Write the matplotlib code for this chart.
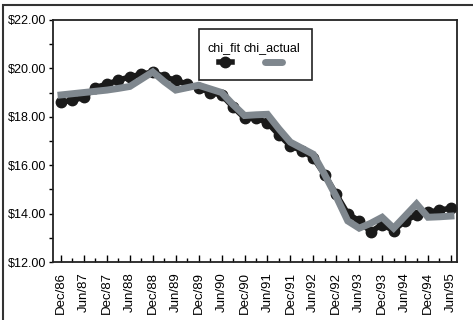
import numpy as np
import matplotlib.pyplot as plt
from matplotlib.patches import Rectangle
from matplotlib.ticker import FuncFormatter, MultipleLocator

plt.rcParams['font.family'] = ['Liberation Sans', 'DejaVu Sans']

# quarterly points, Dec/86 .. Jun/95
tick_labels = ['Dec/86', 'Jun/87', 'Dec/87', 'Jun/88', 'Dec/88', 'Jun/89',
               'Dec/89', 'Jun/90', 'Dec/90', 'Jun/91', 'Dec/91', 'Jun/92',
               'Dec/92', 'Jun/93', 'Dec/93', 'Jun/94', 'Dec/94', 'Jun/95']

chi_fit = [18.60, 18.68, 18.80, 19.20, 19.35, 19.50, 19.65, 19.75, 19.85,
           19.65, 19.50, 19.35, 19.20, 19.00, 18.90, 18.40, 17.95, 17.95,
           17.75, 17.25, 16.80, 16.60, 16.30, 15.60, 14.80, 14.00, 13.70,
           13.25, 13.55, 13.30, 13.70, 13.95, 14.05, 14.15, 14.22]

chi_actual = [18.90, 18.95, 19.00, 19.05, 19.10, 19.17, 19.25, 19.55, 19.85,
              19.45, 19.10, 19.20, 19.30, 19.15, 19.00, 18.50, 18.05, 18.08,
              18.10, 17.50, 16.95, 16.70, 16.45, 15.60, 14.70, 13.70, 13.40,
              13.60, 13.85, 13.40, 13.90, 14.40, 13.85, 13.87, 13.90]

x = np.arange(len(chi_fit))

fig = plt.figure(figsize=(4.73, 3.2), dpi=100)
ax = fig.add_axes([0.112, 0.181, 0.854, 0.757])

ax.plot(x, chi_fit, color='#1a1a1a', lw=4, marker='o', markersize=7.5,
        solid_joinstyle='round', zorder=2)
ax.plot(x, chi_actual, color='#7f878e', lw=5, solid_joinstyle='miter',
        zorder=3)

ax.set_xlim(-0.70, 34.52)
ax.set_ylim(12, 22)

ax.set_xticks(x[::2])
ax.set_xticklabels(tick_labels, rotation=90, fontsize=9.5)
ax.xaxis.set_minor_locator(MultipleLocator(1))
ax.tick_params(axis='x', which='major', direction='in', length=5, width=1, pad=7)
ax.tick_params(axis='x', which='minor', direction='in', length=3, width=1)

ax.yaxis.set_major_locator(MultipleLocator(2))
ax.yaxis.set_minor_locator(MultipleLocator(1))
ax.yaxis.set_major_formatter(FuncFormatter(lambda v, p: '$%.2f' % v))
ax.tick_params(axis='y', which='major', direction='out', length=3, width=1,
               pad=2, labelsize=9)
ax.tick_params(axis='y', which='minor', direction='out', length=3, width=1)

for s in ax.spines.values():
    s.set_linewidth(1.3)
    s.set_color('#222222')

# legend box drawn by hand: labels above their handles
ax.add_patch(Rectangle((0.361, 0.752), 0.28, 0.211, transform=ax.transAxes,
                       facecolor='white', edgecolor='#222222', lw=1.2, zorder=5))
ax.text(0.423, 0.884, 'chi_fit', transform=ax.transAxes, ha='center',
        va='center', fontsize=9, zorder=6)
ax.text(0.542, 0.884, 'chi_actual', transform=ax.transAxes, ha='center',
        va='center', fontsize=9, zorder=6)
ax.plot([0.41, 0.442], [0.826, 0.826], transform=ax.transAxes, color='#1a1a1a',
        lw=4, zorder=6)
ax.plot([0.426], [0.826], transform=ax.transAxes, color='#1a1a1a', marker='o',
        markersize=7.5, zorder=6)
ax.plot([0.525, 0.566], [0.826, 0.826], transform=ax.transAxes, color='#7f878e',
        lw=5, solid_capstyle='round', zorder=6)

# outer frame around the chart
fig.patches.append(Rectangle((3 / 473, -0.05), 1.0, 1.05 - 5.5 / 320,
                             transform=fig.transFigure, fill=False,
                             edgecolor='#333333', lw=1.5))

fig.savefig('out.png', dpi=100)
